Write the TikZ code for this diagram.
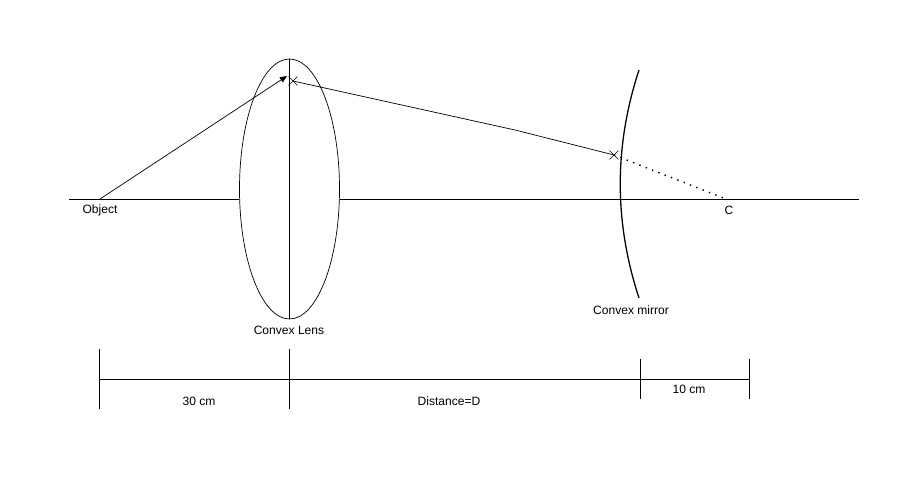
\documentclass[tikz,border=0pt]{standalone}
\usepackage{fontspec}
\setmainfont{Liberation Sans}
\usetikzlibrary{arrows.meta, shapes.geometric, shapes.misc, positioning}

\begin{document}
\begin{tikzpicture}[x=0.03cm, y=-0.03cm, line width=0.6pt,
    lbl/.style={font=\fontsize{10.3}{12}\selectfont, inner sep=1pt},
    xmark/.style={cross out, draw, minimum size=7pt, inner sep=0pt, line width=0.5pt},
    dim/.style={line width=0.6pt}]
\useasboundingbox (0,0) rectangle (908,488);

% principal axis and lens
\node[draw, ellipse, minimum width=3cm, minimum height=7.8cm, inner sep=0pt] (lens) at (289.5,189) {};
\coordinate (axL) at (69,199);
\coordinate (axR) at (859,199);
\draw (axL) -- (lens.west |- axL);
\draw (lens.east |- axR) -- (axR);
\draw (lens.north) -- (lens.south);

% object and ray
\coordinate (obj) at (100,199);
\coordinate (tip) at (287,76);
\node[xmark] (x1) at (293,81) {};
\coordinate (bend) at (515,130);
\node[xmark] (x2) at (614,155) {};
\coordinate (C) at (726,199);
\draw[-{Triangle[length=6pt,width=5pt]}] (obj) -- (tip);
\draw (x1.center) -- (bend) -- (x2.center);
\draw[line width=1.2pt, dash pattern=on 1.2pt off 4.6pt] (x2.center) -- (C);

% convex mirror
\coordinate (mtop) at (639,70);
\coordinate (mbot) at (639,298);
\draw[line width=1.1pt] (mtop) .. controls (614,146) and (614,222) .. (mbot);

% labels
\node[lbl] (objlbl) at (100,210) {Object};
\node[lbl] (clbl) at (729,210) {C};
\node[lbl] (lenslbl) at (289,330) {Convex Lens};
\node[lbl] (mirlbl) at (631,310) {Convex mirror};

% dimensions
\coordinate (d0) at (99,379);
\coordinate (d1) at (289,379);
\coordinate (d2) at (640,379);
\coordinate (d3) at (749,379);
\draw[dim] (d0) -- (d3);
\draw[dim] (99,349) -- (99,409);
\draw[dim] (289,349) -- (289,409);
\draw[dim] (640,359) -- (640,399);
\draw[dim] (749,359) -- (749,399);
\node[lbl] (l30) at (199,401) {30 cm};
\node[lbl] (lD) at (449,401) {Distance=D};
\node[lbl] (l10) at (689,389) {10 cm};
\end{tikzpicture}
\end{document}
